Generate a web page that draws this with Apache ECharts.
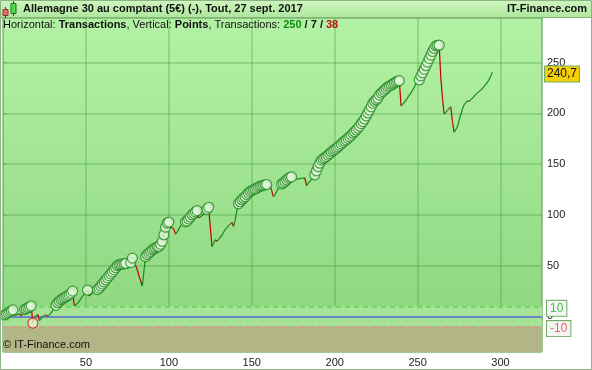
<!DOCTYPE html>
<html><head><meta charset="utf-8">
<script src="https://cdn.jsdelivr.net/npm/echarts@6/dist/echarts.min.js"></script>
<style>html,body{margin:0;padding:0;background:#fff}#c{width:592px;height:370px}</style>
</head><body><div id="c"></div>
<script>
// Cumulative points after each transaction (index 0 = start)
const points = [
 0, 1.5, 2.5, 3.5, 4.5, 5.5, 6.5, 1, 1.5, 2,
 2.5, 0.5, 3, 7, 7.5, 8.5, 9.5, 10.5, -6.5, -1,
 0.5, 2, -4, -2, 0, 1, 1.5, 0.5, 1.5, 3.5,
 6, 8.5, 11, 13.5, 15, 16.5, 17.5, 18.5, 19.5, 20.5,
 21.5, 23, 25, 10.5, 11.5, 13, 15, 17.5, 20, 22,
 24, 26, 20, 21.5, 23, 24.5, 25.5, 26.5, 28, 30,
 32, 34, 36, 38, 40, 42, 44, 46, 48, 50,
 51, 51.3, 51.6, 51.8, 52.2, 47, 49, 53, 57.5, 54,
 50, 46, 40, 35, 30, 45, 59, 61, 62.5, 64,
 65.5, 66.5, 67.5, 68.5, 69, 71, 74, 80.5, 88, 92,
 93, 88, 87.5, 86, 81, 83, 86, 89, 91, 92.5,
 93.2, 94, 96, 98, 100, 101.5, 103, 104.3, 97, 98,
 99.5, 101, 103.5, 105.5, 107.5, 88, 69, 72, 75.5, 74,
 76, 78, 80, 83, 85.5, 87.5, 89.5, 91, 92.5, 88.6,
 95, 104, 111, 113, 115, 116.5, 118, 120, 121.6, 123,
 124, 125, 125.6, 126.5, 127.5, 128.2, 128.8, 129.2, 129.6, 130,
 129.5, 129, 124, 118, 120, 123, 126, 128.5, 130.5, 131.5,
 133, 134.5, 136, 137, 137.5, 134.5, 135, 135.3, 135.6, 135.8,
 136, 136.2, 136.5, 129, 131, 133, 135, 136.5, 139.5, 143.5,
 147.6, 151, 154, 155.2, 156.3, 157.5, 159, 160.5, 162, 163.3,
 164.5, 165.7, 167, 168.5, 170, 171.5, 172.8, 174, 175.5, 177,
 178.5, 180.5, 182, 183.7, 185.5, 187.5, 190, 192, 194.5, 197.5,
 200.5, 203.4, 206.5, 210, 212, 213.5, 215, 218, 220, 221.5,
 223, 224.5, 226, 227, 228, 229, 230, 231, 231.7, 232.3,
 207.4, 209, 211, 213, 215.5, 218, 220, 223, 226, 229,
 231.5, 233, 237, 240, 243.5, 247, 250.5, 254, 257.5, 261,
 264, 266.5, 267, 267.2, 235, 215, 199.5, 201, 203, 205,
 206.5, 192, 181.5, 184, 187, 193, 199, 204, 208.4, 210.5,
 212.3, 211.8, 213.3, 215, 216.5, 218.5, 220, 221.5, 223, 224.5,
 226.4, 228.5, 230.5, 233, 236.5, 240.7
];
const xTickLabels = [50, 100, 150, 200, 250, 300];
const yTickLabels = [0, 50, 100, 150, 200, 250];
const refLevels = [10, -10];
const tradeCounts = [250, 7, 38];
const titleText = 'Allemagne 30 au comptant (5€) (-), Tout, 27 sept. 2017';
const brandText = 'IT-Finance.com';
const lastValue = points[points.length - 1];

// derived
const segs = [];
for (let i = 1; i < points.length; i++) segs.push([i - 1, points[i - 1], i, points[i]]);
const highs = [], lows = [];
let mx = points[0], mn = points[0];
for (let i = 1; i < points.length; i++) {
  if (points[i] > mx) { mx = points[i]; highs.push([i, points[i]]); }
  if (points[i] < mn) { mn = points[i]; lows.push([i, points[i]]); }
}

const chart = echarts.init(document.getElementById('c'), null, {renderer: 'canvas'});
const FONT = 'Liberation Sans, Arial, sans-serif';
const FS = 11;
const gridBg = new echarts.graphic.LinearGradient(0, 0, 0, 1, [
  {offset: 0, color: '#b3f2a5'}, {offset: 1, color: '#8bd47d'}]);
const titleBg = new echarts.graphic.LinearGradient(0, 0, 0, 1, [
  {offset: 0, color: '#cff6c0'}, {offset: 1, color: '#aee69c'}]);

chart.setOption({
  animation: false,
  backgroundColor: '#ffffff',
  grid: {left: 0, right: 50, top: 18, bottom: 18, show: true,
    backgroundColor: gridBg, borderColor: '#8cb87e', borderWidth: 1},
  xAxis: {type: 'value', min: 0, max: 325, interval: 50,
    axisLine: {show: false},
    axisTick: {show: true, length: 4, lineStyle: {color: '#7aa86e'}},
    axisLabel: {color: '#222', fontSize: FS, fontFamily: FONT, margin: 5,
      formatter: v => xTickLabels.includes(v) ? String(v) : ''},
    splitLine: {show: true, lineStyle: {color: 'rgba(70,150,60,0.28)', width: 2}}
  },
  yAxis: {type: 'value', position: 'right', min: -35, max: 294, splitNumber: 6,
    axisLine: {show: false},
    axisTick: {show: true, length: 4, lineStyle: {color: '#7aa86e'}},
    axisLabel: {color: '#222', fontSize: FS, fontFamily: FONT, margin: 5,
      showMinLabel: false, showMaxLabel: false,
      formatter: v => yTickLabels.includes(v) ? String(v) : ''},
    splitLine: {show: true, lineStyle: {color: 'rgba(70,150,60,0.28)', width: 2}}
  },
  series: [
    {type: 'custom', z: 3, data: segs, encode: {x: [0, 2], y: [1, 3]},
      renderItem: (params, api) => {
        const p1 = api.coord([api.value(0), api.value(1)]);
        const p2 = api.coord([api.value(2), api.value(3)]);
        const down = api.value(3) < api.value(1);
        return {type: 'line', shape: {x1: p1[0], y1: p1[1], x2: p2[0], y2: p2[1]},
          style: {stroke: down ? '#c40000' : '#138a13', lineWidth: 1.2}};
      },
      markArea: {silent: true, z: 1,
        data: [
          [{yAxis: -10, itemStyle: {color: '#a6e396'}}, {yAxis: 10}],
          [{yAxis: -35, itemStyle: {color: '#b2b585'}}, {yAxis: -10}]
        ]},
      markLine: {silent: true, symbol: 'none', z: 2,
        data: [
          {yAxis: refLevels[0], lineStyle: {color: '#6ed86a', type: [5, 4], width: 2},
            label: {show: true, position: 'end', formatter: String(refLevels[0]), color: '#3cc23c',
              backgroundColor: '#f4f4f4', borderColor: '#6fae62', borderWidth: 1, offset: [0, 2],
              padding: [2, 3, 1, 3], fontSize: FS + 1, fontFamily: FONT, distance: 5}},
          {yAxis: refLevels[1], lineStyle: {color: '#d2a088', type: [5, 4], width: 2},
            label: {show: true, position: 'end', formatter: String(refLevels[1]), color: '#e06a6a',
              backgroundColor: '#f4f4f4', borderColor: '#6fae62', borderWidth: 1, offset: [0, 2],
              padding: [2, 3, 1, 3], fontSize: FS + 1, fontFamily: FONT, distance: 5}},
          {yAxis: 0, lineStyle: {color: '#6a86c8', type: 'solid', width: 2}, label: {show: false}},
          {yAxis: lastValue, lineStyle: {color: 'rgba(0,0,0,0)', width: 0},
            label: {show: true, position: 'end', formatter: String(lastValue).replace('.', ','),
              color: '#111', backgroundColor: '#f7cf06', borderColor: '#6fae62', borderWidth: 1, offset: [0, 2],
              padding: [2, 2, 1, 2], fontSize: FS + 1, fontFamily: FONT, distance: 3}}
        ]}
    },
    {type: 'scatter', z: 4, data: highs, symbol: 'circle', symbolSize: 10,
      itemStyle: {color: '#dff6d6', borderColor: '#1f8a1f', borderWidth: 1.2}},
    {type: 'scatter', z: 4, data: lows, symbol: 'circle', symbolSize: 10,
      itemStyle: {color: '#ecf0d6', borderColor: '#cc2020', borderWidth: 1.2}}
  ],
  graphic: [
    {type: 'rect', shape: {x: 0, y: 0, width: 592, height: 18}, style: {fill: titleBg}, z: 10},
    {type: 'line', shape: {x1: 0, y1: 17.5, x2: 592, y2: 17.5}, style: {stroke: '#86b47a', lineWidth: 1}, z: 11},
    // candle icon
    {type: 'line', shape: {x1: 5.5, y1: 7, x2: 5.5, y2: 18}, style: {stroke: '#802020', lineWidth: 1}, z: 12},
    {type: 'rect', shape: {x: 3, y: 9.5, width: 5, height: 6}, style: {fill: '#e86a6a', stroke: '#903030', lineWidth: 1}, z: 13},
    {type: 'line', shape: {x1: 13.5, y1: 1, x2: 13.5, y2: 16}, style: {stroke: '#206020', lineWidth: 1}, z: 12},
    {type: 'rect', shape: {x: 11, y: 3.5, width: 5, height: 10}, style: {fill: '#4ed84e', stroke: '#207020', lineWidth: 1}, z: 13},
    {type: 'text', left: 23, top: 3, z: 14,
      style: {text: titleText, font: 'bold ' + FS + 'px ' + FONT, fill: '#111'}},
    {type: 'text', right: 5, top: 3, z: 14,
      style: {text: brandText, font: 'bold ' + FS + 'px ' + FONT, fill: '#111'}},
    {type: 'text', left: 3, top: 19, z: 14,
      style: {
        text: '{n|Horizontal: }{b|Transactions}{n|, Vertical: }{b|Points}{n|, Transactions: }{g|' +
          tradeCounts[0] + '}{b| / ' + tradeCounts[1] + ' / }{r|' + tradeCounts[2] + '}',
        rich: {
          n: {font: FS + 'px ' + FONT, fill: '#111'},
          b: {font: 'bold ' + FS + 'px ' + FONT, fill: '#111'},
          g: {font: 'bold ' + FS + 'px ' + FONT, fill: '#0f8a0f'},
          r: {font: 'bold ' + FS + 'px ' + FONT, fill: '#c01010'}
        }}},
    {type: 'text', left: 3, top: 339, z: 14,
      style: {text: '© ' + brandText, font: FS + 'px ' + FONT, fill: '#111'}},
    {type: 'rect', shape: {x: 0.5, y: 0.5, width: 591, height: 369}, style: {fill: 'none', stroke: '#8cb482', lineWidth: 1}, z: 20}
  ]
});
</script></body></html>
